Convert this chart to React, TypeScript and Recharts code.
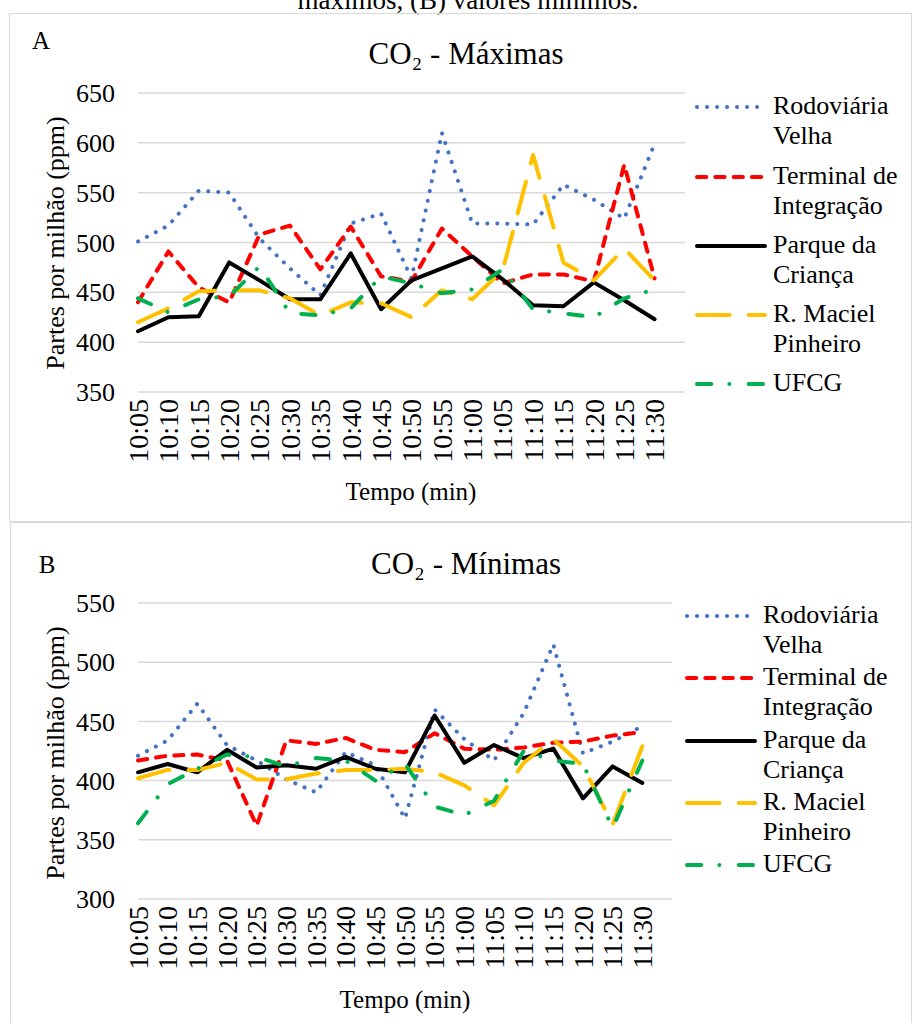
import React from 'react';
import { LineChart, Line, XAxis, YAxis, CartesianGrid } from 'recharts';

const categories = ['10:05', '10:10', '10:15', '10:20', '10:25', '10:30', '10:35', '10:40', '10:45', '10:50', '10:55', '11:00', '11:05', '11:10', '11:15', '11:20', '11:25', '11:30', ''];

// A - Máximas
const rodoviariaMax = [501, 517, 552, 550, 504, 474, 447, 519, 529, 464, 610, 519, 519, 518, 558, 543, 524, 599, null];
const terminalMax = [440, 491, 455, 440, 508, 517, 473, 516, 466, 461, 514, 486, 459, 468, 468, 461, 578, 464, null];
const parqueMax = [411, 425, 426, 480, 462, 443, 443, 489, 433, 462, 474, 486, 463, 437, 436, 460, 442, 423, null];
const macielMax = [420, 434, 451, 452, 452, 444, 427, 440, 439, 425, 452, 443, 472, 588, 480, 462, 494, 462, null];
const ufcgMax = [444, 430, 443, 446, 476, 429, 427, 434, 466, 459, 449, 453, 473, 433, 429, 425, 444, 453, null];

// B - Mínimas
const rodoviariaMin = [421, 434, 465, 430, 417, 401, 390, 424, 413, 368, 460, 435, 417, 457, 515, 423, 433, 446, null];
const terminalMin = [417, 421, 422, 417, 362, 434, 431, 436, 426, 424, 440, 427, 426, 428, 432, 433, 438, 441, null];
const parqueMin = [407, 414, 407, 426, 411, 413, 410, 420, 410, 407, 455, 415, 430, 419, 427, 385, 412, 398, null];
const macielMin = [402, 409, 409, 415, 401, 401, 406, 409, 409, 410, 407, 396, 379, 415, 435, 412, 363, 429, null];
const ufcgMin = [364, 397, 410, 422, 420, 412, 419, 417, 400, 414, 378, 371, 383, 425, 417, 414, 360, 417, null];

const ticksMax = [350, 400, 450, 500, 550, 600, 650];
const ticksMin = [300, 350, 400, 450, 500, 550];

const seriesNames = [
  ['Rodoviária', 'Velha'],
  ['Terminal de', 'Integração'],
  ['Parque da', 'Criança'],
  ['R. Maciel', 'Pinheiro'],
  ['UFCG'],
];

const FONT = '"Liberation Serif", "Times New Roman", serif';

const styles = [
  { key: 'rv', color: '#4472C4', dash: '0.1 9.9' },
  { key: 'ti', color: '#FF0000', dash: '9.3 9' },
  { key: 'pc', color: '#000000', dash: undefined as string | undefined },
  { key: 'rm', color: '#FFC000', dash: '32.7 19' },
  { key: 'uf', color: '#00B050', dash: '14.3 18 0.1 19.3' },
];

const maxSeries = [rodoviariaMax, terminalMax, parqueMax, macielMax, ufcgMax];
const minSeries = [rodoviariaMin, terminalMin, parqueMin, macielMin, ufcgMin];

const buildRows = (series: (number | null)[][]) =>
  categories.map((t, i) => {
    const row: any = { t };
    styles.forEach((s, k) => {
      row[s.key] = series[k][i];
    });
    return row;
  });

const rowsMax = buildRows(maxSeries);
const rowsMin = buildRows(minSeries);

const XTick = (props: any) => {
  const { x, y, payload } = props;
  if (!payload || !payload.value) return <g />;
  return (
    <text
      x={x}
      y={y}
      transform={`rotate(-90 ${x} ${y})`}
      textAnchor="end"
      dy="0.35em"
      style={{ fontSize: 28, fontFamily: FONT, fill: '#000' }}
    >
      {payload.value}
    </text>
  );
};

const YTick = (props: any) => {
  const { x, y, payload } = props;
  return (
    <text
      x={x}
      y={y}
      textAnchor="end"
      dy="0.35em"
      style={{ fontSize: 26, fontFamily: FONT, fill: '#000' }}
    >
      {payload.value}
    </text>
  );
};

type ChartProps = {
  rows: any[];
  ticks: number[];
  domain: [number, number];
  width: number;
  height: number;
  margin: { top: number; right: number; bottom: number; left: number };
};

const Chart = ({ rows, ticks, domain, width, height, margin }: ChartProps) => (
  <LineChart width={width} height={height} data={rows} margin={margin}>
    <CartesianGrid vertical={false} stroke="#d9d9d9" strokeWidth={1.5} />
    <XAxis
      dataKey="t"
      interval={0}
      height={100}
      axisLine={false}
      tickLine={false}
      tickSize={0}
      tickMargin={7}
      tick={<XTick />}
    />
    <YAxis
      domain={domain}
      ticks={ticks}
      width={138}
      axisLine={false}
      tickLine={false}
      tickSize={0}
      tickMargin={23}
      tick={<YTick />}
    />
    {styles.map((s) => (
      <Line
        key={s.key}
        dataKey={s.key}
        type="linear"
        stroke={s.color}
        strokeWidth={4}
        strokeDasharray={s.dash}
        strokeLinecap="round"
        strokeLinejoin="round"
        dot={false}
        activeDot={false}
        isAnimationActive={false}
      />
    ))}
  </LineChart>
);

const LegendBlock = ({ x0, lineYs }: { x0: number; lineYs: number[] }) => (
  <>
    {seriesNames.map((lines, i) => (
      <React.Fragment key={i}>
        <svg
          style={{ position: 'absolute', left: x0 - 5, top: lineYs[i] - 5 }}
          width={80}
          height={10}
        >
          <line
            x1={5}
            y1={5}
            x2={73}
            y2={5}
            stroke={styles[i].color}
            strokeWidth={4}
            strokeDasharray={styles[i].dash}
            strokeLinecap="round"
          />
        </svg>
        <div
          style={{
            position: 'absolute',
            left: x0 + 76,
            top: lineYs[i] - 16,
            fontSize: 26,
            lineHeight: '30px',
            fontFamily: FONT,
            color: '#000',
            whiteSpace: 'nowrap',
          }}
        >
          {lines.map((l, j) => (
            <div key={j}>{l}</div>
          ))}
        </div>
      </React.Fragment>
    ))}
  </>
);

const Txt = ({
  cx,
  cy,
  size,
  rotate,
  children,
}: {
  cx: number;
  cy: number;
  size: number;
  rotate?: boolean;
  children: React.ReactNode;
}) => (
  <div
    style={{
      position: 'absolute',
      left: cx,
      top: cy,
      transform: `translate(-50%, -50%)${rotate ? ' rotate(-90deg)' : ''}`,
      fontSize: size,
      lineHeight: `${Math.round(size * 1.2)}px`,
      fontFamily: FONT,
      color: '#000',
      whiteSpace: 'nowrap',
    }}
  >
    {children}
  </div>
);

export default function App() {
  return (
    <div
      style={{
        position: 'absolute',
        left: 0,
        top: 0,
        width: 913,
        height: 1023,
        overflow: 'hidden',
        background: '#fff',
        fontFamily: FONT,
      }}
    >
      <Txt cx={468} cy={0} size={27}>
        máximos, (B) valores mínimos.
      </Txt>

      {/* Panel A */}
      <div
        style={{
          position: 'absolute',
          left: 9,
          top: 13,
          width: 903,
          height: 509,
          border: '1.5px solid #d9d9d9',
          boxSizing: 'border-box',
        }}
      />
      <div style={{ position: 'absolute', left: 0, top: 0 }}>
        <Chart
          rows={rowsMax}
          ticks={ticksMax}
          domain={[350, 650]}
          width={913}
          height={522}
          margin={{ top: 93, right: 228, bottom: 30, left: 0 }}
        />
      </div>
      <Txt cx={41} cy={41} size={25}>A</Txt>
      <Txt cx={466} cy={53} size={31}>CO₂ - Máximas</Txt>
      <Txt cx={55} cy={243} size={26} rotate>Partes por milhão (ppm)</Txt>
      <Txt cx={411} cy={492} size={25}>Tempo (min)</Txt>
      <LegendBlock x0={697} lineYs={[106.7, 176.7, 245.5, 315, 383.5]} />

      {/* Panel B */}
      <div
        style={{
          position: 'absolute',
          left: 10,
          top: 522,
          width: 902,
          height: 520,
          border: '1.5px solid #d9d9d9',
          boxSizing: 'border-box',
        }}
      />
      <div style={{ position: 'absolute', left: 0, top: 523 }}>
        <Chart
          rows={rowsMin}
          ticks={ticksMin}
          domain={[300, 550]}
          width={913}
          height={500}
          margin={{ top: 80, right: 241, bottom: 24, left: 0 }}
        />
      </div>
      <Txt cx={47} cy={565} size={25}>B</Txt>
      <Txt cx={466} cy={563} size={31}>CO₂ - Mínimas</Txt>
      <Txt cx={55} cy={753} size={26} rotate>Partes por milhão (ppm)</Txt>
      <Txt cx={405} cy={1000} size={25}>Tempo (min)</Txt>
      <LegendBlock x0={687} lineYs={[616, 678.3, 740.7, 802.7, 865]} />
    </div>
  );
}
